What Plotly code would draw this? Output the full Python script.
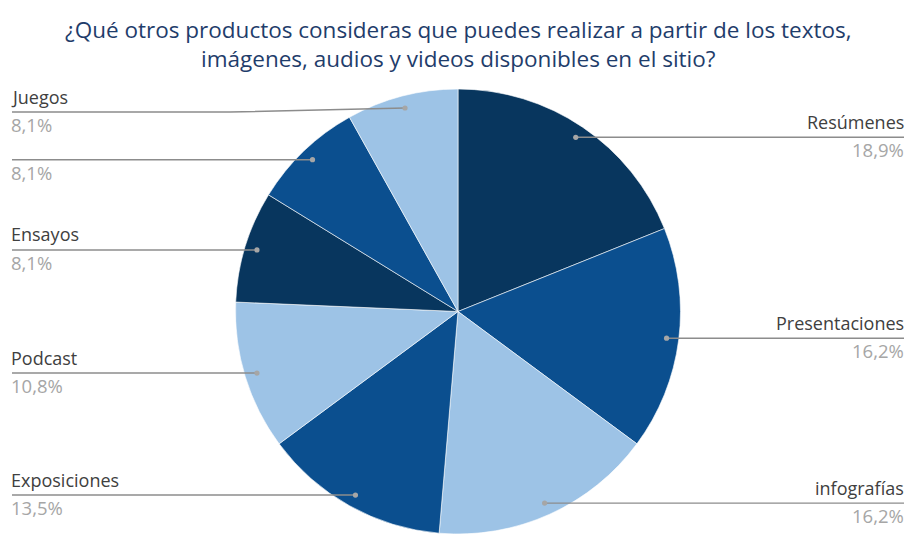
import math
import plotly.graph_objects as go

# ---- data ----
categories = ["Resúmenes", "Presentaciones", "infografías", "Exposiciones",
              "Podcast", "Ensayos", "", "Juegos"]
percentages = [18.9, 16.2, 16.2, 13.5, 10.8, 8.1, 8.1, 8.1]
slice_colors = ["#08365E", "#0B4F8F", "#9DC3E6", "#0B4F8F",
                "#9DC3E6", "#08365E", "#0B4F8F", "#9DC3E6"]
title_text = ("¿Qué otros productos consideras que puedes realizar a partir de los textos,"
              "<br>imágenes, audios y videos disponibles en el sitio?")

W, H = 906, 534
FONT = "Open Sans"

# pie geometry (pixels)
left, right, top, bottom = 233, 683, 89, 534
cx = (left + right) / 2
cy = (top + bottom) / 2
R = min(right - left, bottom - top) / 2


def px(x, y):
    return x / W, 1 - y / H


fig = go.Figure()
fig.add_trace(go.Pie(
    labels=[c if c else " " for c in categories],
    values=percentages,
    sort=False,
    direction="clockwise",
    rotation=0,
    marker=dict(colors=slice_colors, line=dict(color="#FFFFFF", width=0.6)),
    textinfo="none",
    hoverinfo="label+percent",
    domain=dict(x=[left / W, right / W], y=[1 - bottom / H, 1 - top / H]),
    showlegend=False,
))

shapes = []
annotations = []
total = sum(percentages)
cum = 0.0
line_color = "#8C8C8C"
dot_color = "#A6A6A6"
label_y_shift = {7: 4}   # small offset for crowded top-left label
for i, (cat, p) in enumerate(zip(categories, percentages)):
    mid = (cum + p / 2) / total * 2 * math.pi
    cum += p
    dx = cx + 0.945 * R * math.sin(mid)
    dy = cy - 0.945 * R * math.cos(mid)
    right_side = math.sin(mid) > 0
    ly = dy + label_y_shift.get(i, 0)
    if right_side:
        ex = 904
        path = "M {} {} L {} {}".format(*px(dx, dy), *px(ex, ly))
        xanchor = "right"
    else:
        ex = 12
        if ly != dy:
            bx = 230
            path = "M {} {} L {} {} L {} {}".format(*px(ex, ly), *px(bx, ly), *px(dx, dy))
        else:
            path = "M {} {} L {} {}".format(*px(ex, ly), *px(dx, dy))
        xanchor = "left"
    shapes.append(dict(type="path", path=path, xref="paper", yref="paper",
                       line=dict(color=line_color, width=1.4), layer="above"))
    x0, y0 = px(dx - 2.6, dy - 2.6)
    x1, y1 = px(dx + 2.6, dy + 2.6)
    shapes.append(dict(type="circle", xref="paper", yref="paper",
                       x0=x0, y0=y0, x1=x1, y1=y1,
                       fillcolor=dot_color, line=dict(color=dot_color, width=0),
                       layer="above"))
    ax, ay = px(ex, ly)
    xs = 2 if right_side else -3
    if cat:
        annotations.append(dict(x=ax, y=ay, xref="paper", yref="paper",
                                text=cat, showarrow=False, xanchor=xanchor,
                                yanchor="bottom", xshift=xs, yshift=1.5,
                                font=dict(family=FONT, size=18, color="#404040")))
    pct = ("%.1f" % p).replace(".", ",") + "%"
    annotations.append(dict(x=ax, y=ay, xref="paper", yref="paper",
                            text=pct, showarrow=False, xanchor=xanchor,
                            yanchor="top", xshift=xs, yshift=2,
                            font=dict(family=FONT, size=18.5, color="#A6A6A6")))

annotations.append(dict(x=458 / W, y=1 - 12 / H, xref="paper", yref="paper",
                        text=title_text, showarrow=False, xanchor="center",
                        yanchor="top", align="center",
                        font=dict(family=FONT, size=22.5, color="#1F3D6B")))

fig.update_layout(
    width=W, height=H,
    margin=dict(l=0, r=0, t=0, b=0),
    paper_bgcolor="#FFFFFF",
    plot_bgcolor="#FFFFFF",
    shapes=shapes,
    annotations=annotations,
    showlegend=False,
)

fig.write_html("out.html", config={"displayModeBar": False},
               post_script="document.body.style.margin='0';document.body.style.overflow='hidden';")
